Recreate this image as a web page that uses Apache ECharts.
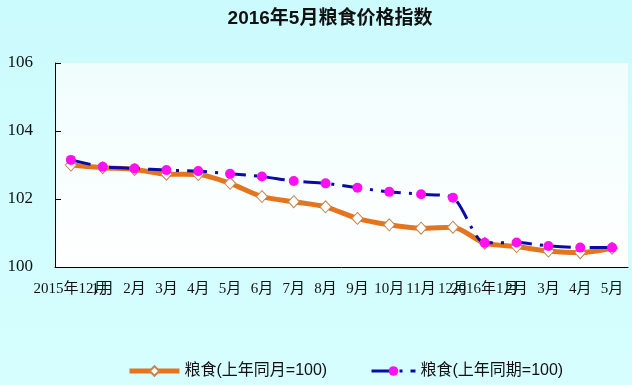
<!DOCTYPE html>
<html>
<head>
<meta charset="utf-8">
<script src="https://cdn.jsdelivr.net/npm/echarts@6/dist/echarts.min.js"></script>
<style>
html,body{margin:0;padding:0;}
#main{width:632px;height:385px;}
</style>
</head>
<body>
<div id="main"></div>
<script>
var categories = ['2015年12月','1月','2月','3月','4月','5月','6月','7月','8月','9月','10月','11月','12月','2016年1月','2月','3月','4月','5月'];
var monthOnMonth = [103.0,102.92,102.87,102.73,102.72,102.46,102.07,101.92,101.77,101.43,101.24,101.14,101.17,100.70,100.60,100.47,100.42,100.55];
var yearToDate = [103.15,102.95,102.9,102.85,102.82,102.74,102.66,102.53,102.46,102.33,102.21,102.14,102.04,100.71,100.72,100.62,100.57,100.57];
var seriesNames = ['粮食(上年同月=100)','粮食(上年同期=100)'];
var yTicks = {min:100, max:106, interval:2};

var serif = '"Liberation Serif","Noto Sans CJK SC",serif';
var sans = '"Liberation Sans","Noto Sans CJK SC",sans-serif';
var chart = echarts.init(document.getElementById('main'));
chart.setOption({
  backgroundColor: {type:'linear',x:0,y:0,x2:0,y2:1,colorStops:[{offset:0,color:'#ccfbfd'},{offset:1,color:'#d6fefe'}]},
  animation:false,
  title:{
    text:'2016年5月粮食价格指数',
    left:325, textAlign:'center', top:4,
    textStyle:{fontSize:19,fontWeight:'bold',color:'#111',fontFamily:sans}
  },
  legend:[{
    data:[seriesNames[0]], left:122, top:358, itemWidth:50, itemHeight:12,
    lineStyle:{width:5},
    textStyle:{fontSize:16,color:'#111',fontFamily:sans}
  },{
    data:[seriesNames[1]], left:365, top:358, itemWidth:44, itemHeight:12,
    lineStyle:{width:3},
    textStyle:{fontSize:16,color:'#111',fontFamily:sans}
  }],
  grid:{left:55,right:4,top:63,bottom:118,show:true,borderWidth:0,
    backgroundColor:{type:'linear',x:0,y:0,x2:0,y2:1,colorStops:[{offset:0,color:'#f0fdfd'},{offset:1,color:'#ffffff'}]}},
  xAxis:{
    type:'category', data:categories, boundaryGap:true,
    axisLine:{lineStyle:{color:'#000',width:1}},
    axisTick:{inside:true,length:6,interval:0,lineStyle:{color:'#000'}},
    axisLabel:{interval:0,color:'#111',fontSize:15,margin:15,fontFamily:serif,hideOverlap:false},
    splitLine:{show:false}
  },
  yAxis:{
    type:'value', min:yTicks.min, max:yTicks.max, interval:yTicks.interval,
    axisLine:{show:true,lineStyle:{color:'#000',width:1}},
    axisTick:{show:true,inside:true,length:6,lineStyle:{color:'#000'}},
    axisLabel:{color:'#111',fontSize:17,margin:22,fontFamily:serif},
    splitLine:{show:false}
  },
  series:[{
    name:seriesNames[0], type:'line', data:monthOnMonth, smooth:0.25,
    symbol:'diamond', symbolSize:[11,12],
    lineStyle:{color:'#e4751e',width:5},
    itemStyle:{color:'#ffffff',borderColor:'#c8844c',borderWidth:1},
    z:2
  },{
    name:seriesNames[1], type:'line', data:yearToDate, smooth:0.25,
    symbol:'circle', symbolSize:10,
    lineStyle:{color:'#0a0aa6',width:3,type:[20,8,3,8]},
    itemStyle:{color:'#ff10f0',borderWidth:0},
    z:3
  }]
});
</script>
</body>
</html>
